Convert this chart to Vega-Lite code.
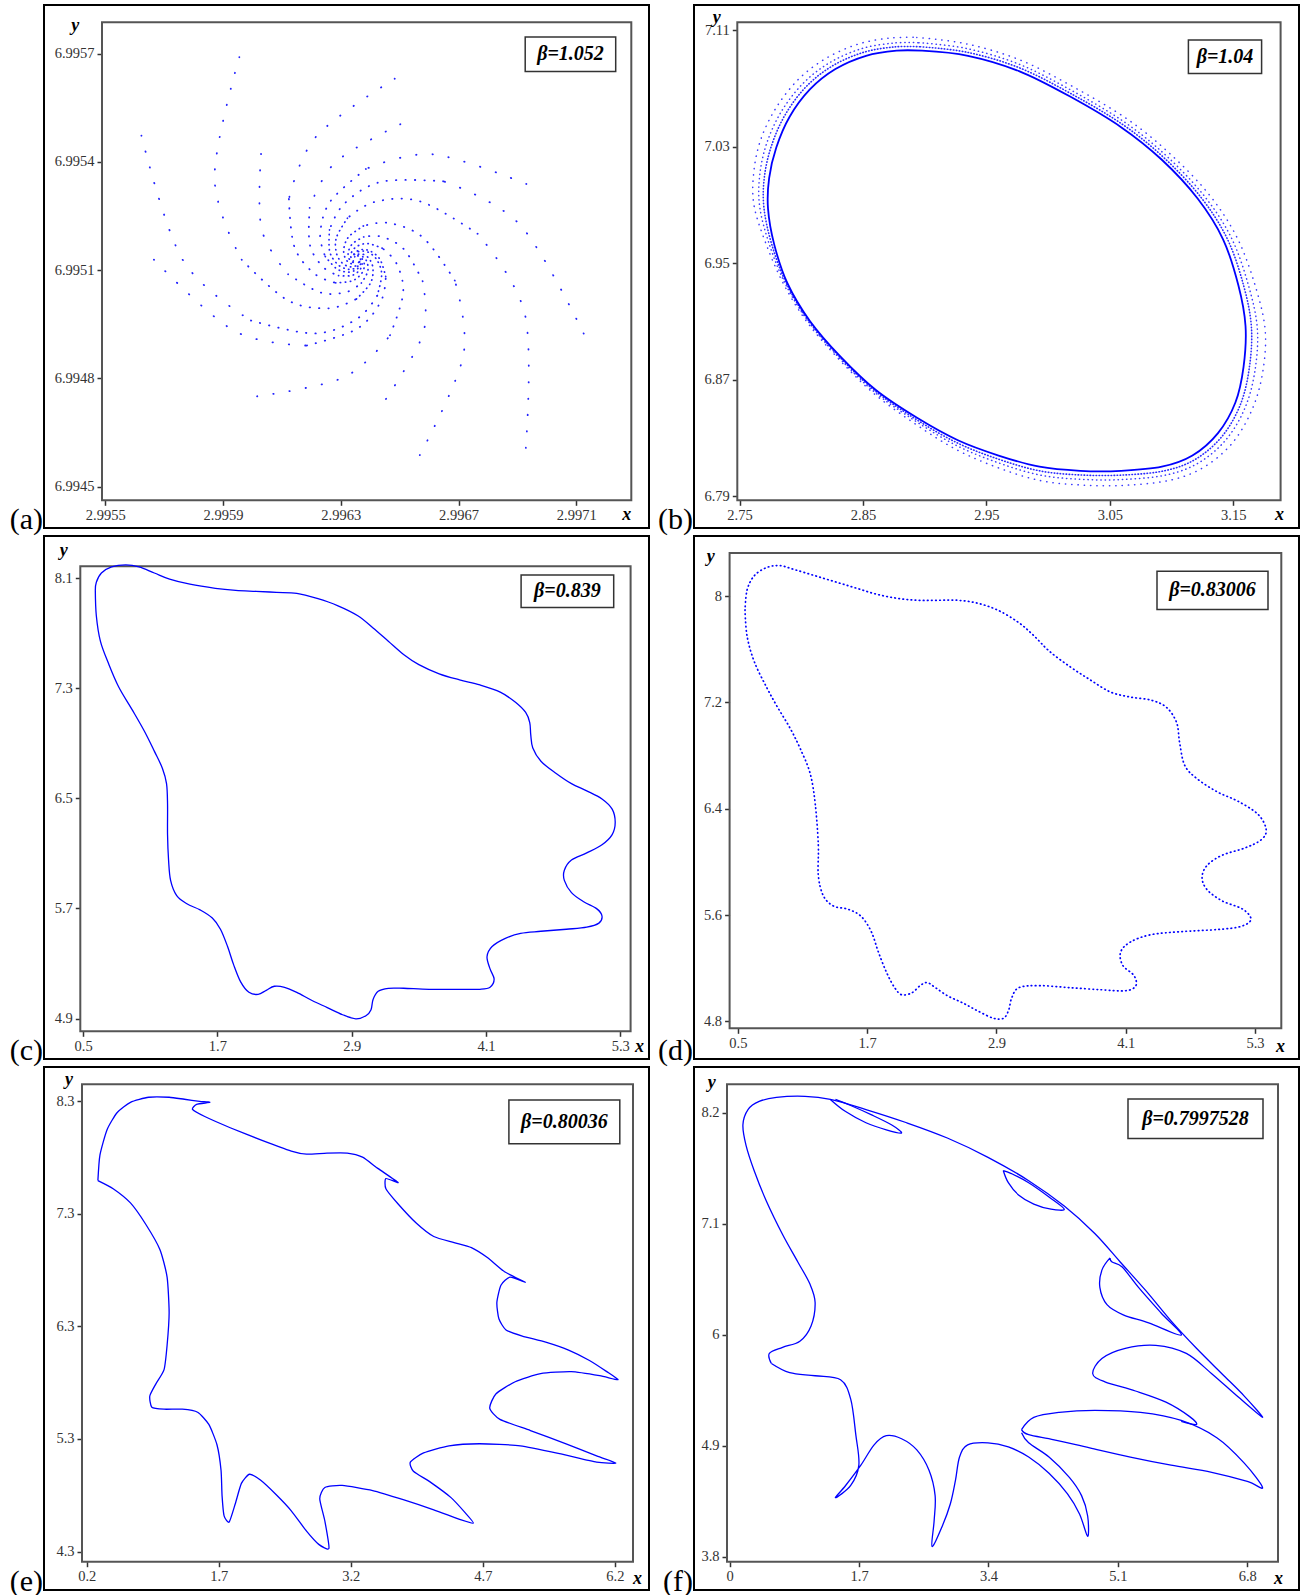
{
  "$schema": "https://vega.github.io/schema/vega-lite/v6.json",
  "padding": {"left": 8, "top": 4, "right": 0, "bottom": 0},
  "background": "white",
  "bounds": "flush",
  "columns": 2,
  "spacing": {"row": 8, "column": 45},
  "config": {
    "view": {"stroke": "#000000", "strokeWidth": 2},
    "axis": {"grid": false, "domain": false, "tickColor": "#333333", "tickWidth": 1.5, "tickSize": 5,
      "labelFont": "Liberation Serif", "labelFontSize": 14.5, "labelColor": "#333333", "labelPadding": 3,
      "titleFont": "Liberation Serif", "titleFontSize": 18, "titleFontStyle": "italic", "titleFontWeight": "bold",
      "titleAngle": 0, "titleAlign": "center", "titleBaseline": "middle", "titleColor": "#000000", "format": "~g"},
    "title": {"font": "Liberation Serif", "fontSize": 30, "fontWeight": "normal", "color": "#000000",
      "orient": "left", "anchor": "start", "frame": "group", "angle": 0, "align": "right", "baseline": "alphabetic", "offset": 1, "dy": -23}
  },
  "datasets": {
    "one": [{}],
    "a": [
      {"k":1,"j":0,"x":2.9959554,"y":6.9956904},{"k":1,"j":1,"x":2.9958711,"y":6.9953559},{"k":1,"j":2,"x":2.9959634,"y":6.9951291},{"k":1,"j":3,"x":2.9961168,"y":6.9950178},{"k":1,"j":4,"x":2.9962574,"y":6.9949944},{"k":1,"j":5,"x":2.9963528,"y":6.9950201},{"k":1,"j":6,"x":2.9963998,"y":6.9950629},{"k":1,"j":7,"x":2.9964095,"y":6.9951023},{"k":1,"j":8,"x":2.9963988,"y":6.9951291},{"k":1,"j":9,"x":2.9963808,"y":6.9951423},{"k":1,"j":10,"x":2.9963642,"y":6.9951449},{"k":1,"j":11,"x":2.9963528,"y":6.9951418},{"k":1,"j":12,"x":2.9963473,"y":6.995137},
      {"k":2,"j":0,"x":2.9964834,"y":6.9956307},{"k":2,"j":1,"x":2.9962167,"y":6.9954706},{"k":2,"j":2,"x":2.9961237,"y":6.9952973},{"k":2,"j":3,"x":2.996142,"y":6.9951657},{"k":2,"j":4,"x":2.9962091,"y":6.9950911},{"k":2,"j":5,"x":2.996282,"y":6.9950651},{"k":2,"j":6,"x":2.9963376,"y":6.9950702},{"k":2,"j":7,"x":2.9963687,"y":6.9950888},{"k":2,"j":8,"x":2.9963798,"y":6.9951094},{"k":2,"j":9,"x":2.9963773,"y":6.9951249},{"k":2,"j":10,"x":2.9963697,"y":6.9951336},{"k":2,"j":11,"x":2.9963611,"y":6.9951367},
      {"k":3,"j":0,"x":2.9969305,"y":6.9953387},{"k":3,"j":1,"x":2.996613,"y":6.995421},{"k":3,"j":2,"x":2.9963853,"y":6.9953804},{"k":3,"j":3,"x":2.9962647,"y":6.9952908},{"k":3,"j":4,"x":2.9962301,"y":6.9952018},{"k":3,"j":5,"x":2.9962471,"y":6.9951381},{"k":3,"j":6,"x":2.9962851,"y":6.9951046},{"k":3,"j":7,"x":2.996322,"y":6.9950947},{"k":3,"j":8,"x":2.996349,"y":6.9950998},{"k":3,"j":9,"x":2.9963632,"y":6.9951099},{"k":3,"j":10,"x":2.9963673,"y":6.9951204},{"k":3,"j":11,"x":2.9963652,"y":6.995128},
      {"k":4,"j":0,"x":2.9971251,"y":6.9949245},{"k":4,"j":1,"x":2.9969088,"y":6.9952255},{"k":4,"j":2,"x":2.9966486,"y":6.9953463},{"k":4,"j":3,"x":2.9964388,"y":6.9953452},{"k":4,"j":4,"x":2.9963124,"y":6.9952846},{"k":4,"j":5,"x":2.9962616,"y":6.9952119},{"k":4,"j":6,"x":2.9962619,"y":6.9951531},{"k":4,"j":7,"x":2.9962871,"y":6.9951178},{"k":4,"j":8,"x":2.9963182,"y":6.9951037},{"k":4,"j":9,"x":2.9963428,"y":6.9951037},{"k":4,"j":10,"x":2.9963576,"y":6.9951108},{"k":4,"j":11,"x":2.9963635,"y":6.9951195},{"k":4,"j":12,"x":2.9963635,"y":6.9951263},
      {"k":5,"j":0,"x":2.9969285,"y":6.9946078},{"k":5,"j":1,"x":2.9969257,"y":6.9949772},{"k":5,"j":2,"x":2.996765,"y":6.9952007},{"k":5,"j":3,"x":2.9965722,"y":6.99529},{"k":5,"j":4,"x":2.9964167,"y":6.9952894},{"k":5,"j":5,"x":2.9963227,"y":6.9952443},{"k":5,"j":6,"x":2.9962851,"y":6.9951905},{"k":5,"j":7,"x":2.9962854,"y":6.9951469},{"k":5,"j":8,"x":2.9963041,"y":6.9951206},{"k":5,"j":9,"x":2.9963272,"y":6.9951102},{"k":5,"j":10,"x":2.9963452,"y":6.9951102},{"k":5,"j":11,"x":2.9963563,"y":6.9951156},{"k":5,"j":12,"x":2.9963607,"y":6.9951221},
      {"k":6,"j":0,"x":2.9965684,"y":6.9945878},{"k":6,"j":1,"x":2.996716,"y":6.9948625},{"k":6,"j":2,"x":2.9966873,"y":6.9950711},{"k":6,"j":3,"x":2.9965805,"y":6.9951894},{"k":6,"j":4,"x":2.9964651,"y":6.9952305},{"k":6,"j":5,"x":2.996377,"y":6.9952226},{"k":6,"j":6,"x":2.9963272,"y":6.9951928},{"k":6,"j":7,"x":2.9963103,"y":6.9951604},{"k":6,"j":8,"x":2.9963138,"y":6.9951359},{"k":6,"j":9,"x":2.9963258,"y":6.9951221},{"k":6,"j":10,"x":2.9963397,"y":6.9951173},{"k":6,"j":11,"x":2.99635,"y":6.9951181},
      {"k":7,"j":0,"x":2.9960156,"y":6.9947507},{"k":7,"j":1,"x":2.996311,"y":6.9948034},{"k":7,"j":2,"x":2.9964672,"y":6.9949197},{"k":7,"j":3,"x":2.9965117,"y":6.995035},{"k":7,"j":4,"x":2.99649,"y":6.9951173},{"k":7,"j":5,"x":2.9964409,"y":6.9951609},{"k":7,"j":6,"x":2.9963925,"y":6.9951736},{"k":7,"j":7,"x":2.9963576,"y":6.9951674},{"k":7,"j":8,"x":2.9963393,"y":6.9951539},{"k":7,"j":9,"x":2.9963341,"y":6.9951401},{"k":7,"j":10,"x":2.9963366,"y":6.9951305},{"k":7,"j":11,"x":2.9963424,"y":6.9951254},
      {"k":8,"j":0,"x":2.9956652,"y":6.9951291},{"k":8,"j":1,"x":2.9959361,"y":6.9949327},{"k":8,"j":2,"x":2.9961842,"y":6.9948913},{"k":8,"j":3,"x":2.9963528,"y":6.9949367},{"k":8,"j":4,"x":2.9964354,"y":6.9950124},{"k":8,"j":5,"x":2.9964527,"y":6.995082},{"k":8,"j":6,"x":2.9964337,"y":6.9951291},{"k":8,"j":7,"x":2.9964019,"y":6.9951522},{"k":8,"j":8,"x":2.9963728,"y":6.9951573},{"k":8,"j":9,"x":2.9963528,"y":6.9951516},{"k":8,"j":10,"x":2.9963431,"y":6.9951426},{"k":8,"j":11,"x":2.9963411,"y":6.9951347},
      {"k":9,"j":0,"x":2.9956227,"y":6.9954729},{"k":9,"j":1,"x":2.9957626,"y":6.9951291},{"k":9,"j":2,"x":2.9959948,"y":6.9949606},{"k":9,"j":3,"x":2.996208,"y":6.9949248},{"k":9,"j":4,"x":2.9963528,"y":6.994964},{"k":9,"j":5,"x":2.9964236,"y":6.9950291},{"k":9,"j":6,"x":2.9964388,"y":6.9950885},{"k":9,"j":7,"x":2.9964223,"y":6.9951291},{"k":9,"j":8,"x":2.996395,"y":6.9951491},{"k":9,"j":9,"x":2.9963697,"y":6.9951531},{"k":9,"j":10,"x":2.9963528,"y":6.9951485},{"k":9,"j":11,"x":2.9963445,"y":6.9951409},{"k":9,"j":12,"x":2.9963428,"y":6.9951339},
      {"k":10,"j":0,"x":2.9965024,"y":6.9955044},{"k":10,"j":1,"x":2.9962823,"y":6.9953993},{"k":10,"j":2,"x":2.9961942,"y":6.9952728},{"k":10,"j":3,"x":2.9961949,"y":6.9951708},{"k":10,"j":4,"x":2.9962391,"y":6.9951094},{"k":10,"j":5,"x":2.9962923,"y":6.9950849},{"k":10,"j":6,"x":2.9963352,"y":6.9950849},{"k":10,"j":7,"x":2.9963611,"y":6.9950975},{"k":10,"j":8,"x":2.9963715,"y":6.9951122},{"k":10,"j":9,"x":2.9963711,"y":6.9951243},{"k":10,"j":10,"x":2.9963659,"y":6.9951314},
      {"k":11,"j":0,"x":2.996029,"y":6.9954221},{"k":11,"j":1,"x":2.9960308,"y":6.9952145},{"k":11,"j":2,"x":2.9961209,"y":6.9950888},{"k":11,"j":3,"x":2.9962294,"y":6.9950387},{"k":11,"j":4,"x":2.9963169,"y":6.9950389},{"k":11,"j":5,"x":2.9963697,"y":6.9950643},{"k":11,"j":6,"x":2.9963908,"y":6.9950944},{"k":11,"j":7,"x":2.9963905,"y":6.995119},{"k":11,"j":8,"x":2.9963801,"y":6.9951339},{"k":11,"j":9,"x":2.9963673,"y":6.9951395},{"k":11,"j":10,"x":2.9963569,"y":6.9951395},
      {"k":12,"j":0,"x":2.9964534,"y":6.9947434},{"k":12,"j":1,"x":2.9965795,"y":6.994924},{"k":12,"j":2,"x":2.9965781,"y":6.9950694},{"k":12,"j":3,"x":2.9965152,"y":6.9951573},{"k":12,"j":4,"x":2.9964392,"y":6.9951925},{"k":12,"j":5,"x":2.996378,"y":6.9951922},{"k":12,"j":6,"x":2.9963411,"y":6.9951745},{"k":12,"j":7,"x":2.9963262,"y":6.9951531},{"k":12,"j":8,"x":2.9963262,"y":6.9951361},{"k":12,"j":9,"x":2.9963338,"y":6.9951257},{"k":12,"j":10,"x":2.9963428,"y":6.9951218}
    ],
    "b0": [
      {"i":1,"x":2.8979,"y":7.0960},{"i":2,"x":2.9351,"y":7.0925},{"i":3,"x":2.9764,"y":7.0820},{"i":4,"x":3.0178,"y":7.0645},
      {"i":5,"x":3.0591,"y":7.0435},{"i":6,"x":3.0921,"y":7.0211},{"i":7,"x":3.1211,"y":6.9945},{"i":8,"x":3.1417,"y":6.9665},
      {"i":9,"x":3.1541,"y":6.9349},{"i":10,"x":3.1599,"y":6.9069},{"i":11,"x":3.1583,"y":6.8789},{"i":12,"x":3.1517,"y":6.8544},
      {"i":13,"x":3.1376,"y":6.8334},{"i":14,"x":3.1169,"y":6.8180},{"i":15,"x":3.0921,"y":6.8103},{"i":16,"x":3.0591,"y":6.8075},
      {"i":17,"x":3.0260,"y":6.8075},{"i":18,"x":2.9930,"y":6.8103},{"i":19,"x":2.9599,"y":6.8180},{"i":20,"x":2.9269,"y":6.8285},
      {"i":21,"x":2.8938,"y":6.8439},{"i":22,"x":2.8607,"y":6.8628},{"i":23,"x":2.8318,"y":6.8859},{"i":24,"x":2.8070,"y":6.9104},
      {"i":25,"x":2.7888,"y":6.9363},{"i":26,"x":2.7781,"y":6.9630},{"i":27,"x":2.7731,"y":6.9875},{"i":28,"x":2.7740,"y":7.0085},
      {"i":29,"x":2.7798,"y":7.0295},{"i":30,"x":2.7905,"y":7.0505},{"i":31,"x":2.8070,"y":7.0694},{"i":32,"x":2.8277,"y":7.0834},
      {"i":33,"x":2.8525,"y":7.0925},{"i":34,"x":2.8773,"y":7.0960},{"i":35,"x":2.8979,"y":7.0960}
    ],
    "b1": [
      {"i":1,"x":2.8966,"y":7.0987},{"i":2,"x":2.9345,"y":7.0949},{"i":3,"x":2.9766,"y":7.0843},{"i":4,"x":3.0187,"y":7.0664},
      {"i":5,"x":3.0607,"y":7.0451},{"i":6,"x":3.0942,"y":7.0222},{"i":7,"x":3.1239,"y":6.9952},{"i":8,"x":3.1452,"y":6.9667},
      {"i":9,"x":3.1584,"y":6.9346},{"i":10,"x":3.1647,"y":6.9058},{"i":11,"x":3.1628,"y":6.8772},{"i":12,"x":3.1555,"y":6.8525},
      {"i":13,"x":3.1409,"y":6.8312},{"i":14,"x":3.1197,"y":6.8156},{"i":15,"x":3.0946,"y":6.8076},{"i":16,"x":3.0610,"y":6.8046},
      {"i":17,"x":3.0273,"y":6.8046},{"i":18,"x":2.9936,"y":6.8074},{"i":19,"x":2.9598,"y":6.8155},{"i":20,"x":2.9263,"y":6.8267},
      {"i":21,"x":2.8931,"y":6.8428},{"i":22,"x":2.8600,"y":6.8623},{"i":23,"x":2.8312,"y":6.8856},{"i":24,"x":2.8063,"y":6.9102},
      {"i":25,"x":2.7879,"y":6.9363},{"i":26,"x":2.7761,"y":6.9631},{"i":27,"x":2.7698,"y":6.9881},{"i":28,"x":2.7702,"y":7.0096},
      {"i":29,"x":2.7760,"y":7.0310},{"i":30,"x":2.7872,"y":7.0523},{"i":31,"x":2.8042,"y":7.0715},{"i":32,"x":2.8254,"y":7.0856},
      {"i":33,"x":2.8505,"y":7.0949},{"i":34,"x":2.8757,"y":7.0986},{"i":35,"x":2.8966,"y":7.0987}
    ],
    "b2": [
      {"i":1,"x":2.8954,"y":7.1015},{"i":2,"x":2.9341,"y":7.0975},{"i":3,"x":2.9768,"y":7.0866},{"i":4,"x":3.0196,"y":7.0684},
      {"i":5,"x":3.0623,"y":7.0467},{"i":6,"x":3.0963,"y":7.0234},{"i":7,"x":3.1267,"y":6.9960},{"i":8,"x":3.1487,"y":6.9670},
      {"i":9,"x":3.1625,"y":6.9342},{"i":10,"x":3.1695,"y":6.9047},{"i":11,"x":3.1674,"y":6.8755},{"i":12,"x":3.1593,"y":6.8504},
      {"i":13,"x":3.1441,"y":6.8289},{"i":14,"x":3.1224,"y":6.8132},{"i":15,"x":3.0969,"y":6.8049},{"i":16,"x":3.0629,"y":6.8016},
      {"i":17,"x":3.0285,"y":6.8016},{"i":18,"x":2.9941,"y":6.8045},{"i":19,"x":2.9597,"y":6.8130},{"i":20,"x":2.9257,"y":6.8249},
      {"i":21,"x":2.8923,"y":6.8418},{"i":22,"x":2.8593,"y":6.8616},{"i":23,"x":2.8305,"y":6.8853},{"i":24,"x":2.8056,"y":6.9101},
      {"i":25,"x":2.7869,"y":6.9362},{"i":26,"x":2.7741,"y":6.9632},{"i":27,"x":2.7664,"y":6.9887},{"i":28,"x":2.7664,"y":7.0106},
      {"i":29,"x":2.7721,"y":7.0326},{"i":30,"x":2.7839,"y":7.0542},{"i":31,"x":2.8014,"y":7.0735},{"i":32,"x":2.8231,"y":7.0878},
      {"i":33,"x":2.8485,"y":7.0973},{"i":34,"x":2.8741,"y":7.1012},{"i":35,"x":2.8954,"y":7.1015}
    ],
    "b3": [
      {"i":1,"x":2.8936,"y":7.1051},{"i":2,"x":2.9333,"y":7.1008},{"i":3,"x":2.9770,"y":7.0897},{"i":4,"x":3.0207,"y":7.0710},
      {"i":5,"x":3.0645,"y":7.0488},{"i":6,"x":3.0991,"y":7.0249},{"i":7,"x":3.1305,"y":6.9971},{"i":8,"x":3.1532,"y":6.9674},
      {"i":9,"x":3.1681,"y":6.9337},{"i":10,"x":3.1759,"y":6.9032},{"i":11,"x":3.1734,"y":6.8732},{"i":12,"x":3.1643,"y":6.8478},
      {"i":13,"x":3.1485,"y":6.8259},{"i":14,"x":3.1260,"y":6.8099},{"i":15,"x":3.1001,"y":6.8013},{"i":16,"x":3.0655,"y":6.7977},
      {"i":17,"x":3.0302,"y":6.7976},{"i":18,"x":2.9948,"y":6.8006},{"i":19,"x":2.9595,"y":6.8096},{"i":20,"x":2.9249,"y":6.8224},
      {"i":21,"x":2.8913,"y":6.8403},{"i":22,"x":2.8584,"y":6.8609},{"i":23,"x":2.8297,"y":6.8849},{"i":24,"x":2.8046,"y":6.9098},
      {"i":25,"x":2.7855,"y":6.9361},{"i":26,"x":2.7715,"y":6.9634},{"i":27,"x":2.7618,"y":6.9896},{"i":28,"x":2.7615,"y":7.0121},
      {"i":29,"x":2.7671,"y":7.0347},{"i":30,"x":2.7795,"y":7.0566},{"i":31,"x":2.7977,"y":7.0763},{"i":32,"x":2.8200,"y":7.0907},
      {"i":33,"x":2.8460,"y":7.1005},{"i":34,"x":2.8719,"y":7.1047},{"i":35,"x":2.8936,"y":7.1051}
    ],
    "c": [
      {"i":1,"x":0.6091,"y":8.0113},{"i":2,"x":0.6182,"y":8.0704},{"i":3,"x":0.6636,"y":8.1370},{"i":4,"x":0.7545,"y":8.1813},
      {"i":5,"x":0.8818,"y":8.1961},{"i":6,"x":1.0,"y":8.1813},{"i":7,"x":1.1364,"y":8.1370},{"i":8,"x":1.2727,"y":8.0926},
      {"i":9,"x":1.4545,"y":8.0556},{"i":10,"x":1.6818,"y":8.0261},{"i":11,"x":1.8636,"y":8.0113},{"i":12,"x":2.0455,"y":8.0039},
      {"i":13,"x":2.2273,"y":7.9965},{"i":14,"x":2.4091,"y":7.9891},{"i":15,"x":2.5909,"y":7.9521},{"i":16,"x":2.7727,"y":7.9004},
      {"i":17,"x":2.9545,"y":7.8264},{"i":18,"x":3.0909,"y":7.7377},{"i":19,"x":3.2273,"y":7.6416},{"i":20,"x":3.3636,"y":7.5455},
      {"i":21,"x":3.5,"y":7.4715},{"i":22,"x":3.6818,"y":7.4050},{"i":23,"x":3.8636,"y":7.3606},{"i":24,"x":4.0455,"y":7.3237},
      {"i":25,"x":4.2273,"y":7.2719},{"i":26,"x":4.3636,"y":7.1980},{"i":27,"x":4.4545,"y":7.1240},{"i":28,"x":4.4909,"y":7.0501},
      {"i":29,"x":4.5,"y":6.9614},{"i":30,"x":4.5182,"y":6.8653},{"i":31,"x":4.5909,"y":6.7691},{"i":32,"x":4.7273,"y":6.6804},
      {"i":33,"x":4.8636,"y":6.6065},{"i":34,"x":5.0,"y":6.5547},{"i":35,"x":5.1364,"y":6.4956},{"i":36,"x":5.2273,"y":6.4216},
      {"i":37,"x":5.2545,"y":6.3255},{"i":38,"x":5.2273,"y":6.2368},{"i":39,"x":5.1364,"y":6.1629},{"i":40,"x":5.0,"y":6.1037},
      {"i":41,"x":4.8636,"y":6.0520},{"i":42,"x":4.8,"y":5.9781},{"i":43,"x":4.8,"y":5.9041},{"i":44,"x":4.8636,"y":5.8154},
      {"i":45,"x":4.9727,"y":5.7488},{"i":46,"x":5.0909,"y":5.6970},{"i":47,"x":5.1364,"y":5.6453},{"i":48,"x":5.1091,"y":5.5936},
      {"i":49,"x":5.0,"y":5.5640},{"i":50,"x":4.8182,"y":5.5492},{"i":51,"x":4.5909,"y":5.5344},{"i":52,"x":4.4091,"y":5.5196},
      {"i":53,"x":4.2727,"y":5.4827},{"i":54,"x":4.1545,"y":5.4235},{"i":55,"x":4.1091,"y":5.3496},{"i":56,"x":4.1364,"y":5.2609},
      {"i":57,"x":4.1727,"y":5.1869},{"i":58,"x":4.1364,"y":5.1278},{"i":59,"x":4.0455,"y":5.1130},{"i":60,"x":3.8636,"y":5.1130},
      {"i":61,"x":3.5909,"y":5.1130},{"i":62,"x":3.3636,"y":5.1203},{"i":63,"x":3.2273,"y":5.1203},{"i":64,"x":3.1364,"y":5.0982},
      {"i":65,"x":3.0909,"y":5.0391},{"i":66,"x":3.0727,"y":4.9651},{"i":67,"x":3.0273,"y":4.9207},{"i":68,"x":2.9364,"y":4.8985},
      {"i":69,"x":2.8182,"y":4.9281},{"i":70,"x":2.6818,"y":4.9799},{"i":71,"x":2.5455,"y":5.0316},{"i":72,"x":2.4091,"y":5.0907},
      {"i":73,"x":2.3,"y":5.1277},{"i":74,"x":2.2091,"y":5.1351},{"i":75,"x":2.1364,"y":5.1056},{"i":76,"x":2.0636,"y":5.0760},
      {"i":77,"x":1.9818,"y":5.0908},{"i":78,"x":1.9091,"y":5.1647},{"i":79,"x":1.8455,"y":5.2904},{"i":80,"x":1.7909,"y":5.4235},
      {"i":81,"x":1.7273,"y":5.5492},{"i":82,"x":1.6545,"y":5.6305},{"i":83,"x":1.5455,"y":5.6896},{"i":84,"x":1.4273,"y":5.7340},
      {"i":85,"x":1.3364,"y":5.7932},{"i":86,"x":1.2818,"y":5.9041},{"i":87,"x":1.2636,"y":6.0520},{"i":88,"x":1.2545,"y":6.2368},
      {"i":89,"x":1.2545,"y":6.4586},{"i":90,"x":1.2455,"y":6.6065},{"i":91,"x":1.2091,"y":6.7174},{"i":92,"x":1.1364,"y":6.8431},
      {"i":93,"x":1.0455,"y":6.9910},{"i":94,"x":0.9364,"y":7.1462},{"i":95,"x":0.8182,"y":7.3089},{"i":96,"x":0.7273,"y":7.4789},
      {"i":97,"x":0.6545,"y":7.6416},{"i":98,"x":0.6182,"y":7.8264},{"i":99,"x":0.6091,"y":8.0113}
    ],
    "d": [
      {"i":1,"x":0.5661,"y":7.8926},{"i":2,"x":0.5850,"y":8.0460},{"i":3,"x":0.6512,"y":8.1535},{"i":4,"x":0.7646,"y":8.2149},
      {"i":5,"x":0.8874,"y":8.2302},{"i":6,"x":1.0291,"y":8.1995},{"i":7,"x":1.2181,"y":8.1535},{"i":8,"x":1.4071,"y":8.1074},
      {"i":9,"x":1.5961,"y":8.0614},{"i":10,"x":1.7850,"y":8.0153},{"i":11,"x":1.9740,"y":7.9847},{"i":12,"x":2.1630,"y":7.9693},
      {"i":13,"x":2.3520,"y":7.9693},{"i":14,"x":2.5409,"y":7.9693},{"i":15,"x":2.7299,"y":7.9463},{"i":16,"x":2.9189,"y":7.8926},
      {"i":17,"x":3.1079,"y":7.8005},{"i":18,"x":3.2496,"y":7.7007},{"i":19,"x":3.3913,"y":7.5856},{"i":20,"x":3.5803,"y":7.4705},
      {"i":21,"x":3.7693,"y":7.3707},{"i":22,"x":3.9583,"y":7.2787},{"i":23,"x":4.1472,"y":7.2403},{"i":24,"x":4.3362,"y":7.2173},
      {"i":25,"x":4.4780,"y":7.1635},{"i":26,"x":4.5724,"y":7.0484},{"i":27,"x":4.6008,"y":6.8950},{"i":28,"x":4.6480,"y":6.7261},
      {"i":29,"x":4.7614,"y":6.6264},{"i":30,"x":4.9504,"y":6.5266},{"i":31,"x":5.1394,"y":6.4575},{"i":32,"x":5.3283,"y":6.3578},
      {"i":33,"x":5.4039,"y":6.2427},{"i":34,"x":5.3567,"y":6.1660},{"i":35,"x":5.2055,"y":6.1046},{"i":36,"x":4.9976,"y":6.0509},
      {"i":37,"x":4.8559,"y":5.9741},{"i":38,"x":4.8087,"y":5.8821},{"i":39,"x":4.8559,"y":5.7900},{"i":40,"x":4.9976,"y":5.7055},
      {"i":41,"x":5.1866,"y":5.6441},{"i":42,"x":5.2622,"y":5.5674},{"i":43,"x":5.1677,"y":5.5137},{"i":44,"x":4.9504,"y":5.4906},
      {"i":45,"x":4.6197,"y":5.4753},{"i":46,"x":4.3362,"y":5.4523},{"i":47,"x":4.1472,"y":5.3985},{"i":48,"x":4.0528,"y":5.3218},
      {"i":49,"x":4.0717,"y":5.2220},{"i":50,"x":4.1756,"y":5.1453},{"i":51,"x":4.1945,"y":5.0686},{"i":52,"x":4.1000,"y":5.0302},
      {"i":53,"x":3.8638,"y":5.0379},{"i":54,"x":3.5803,"y":5.0532},{"i":55,"x":3.2969,"y":5.0686},{"i":56,"x":3.1079,"y":5.0532},
      {"i":57,"x":3.0417,"y":4.9765},{"i":58,"x":3.0134,"y":4.8844},{"i":59,"x":2.9661,"y":4.8230},{"i":60,"x":2.8717,"y":4.8230},
      {"i":61,"x":2.7299,"y":4.8767},{"i":62,"x":2.5882,"y":4.9381},{"i":63,"x":2.4465,"y":4.9918},{"i":64,"x":2.3331,"y":5.0532},
      {"i":65,"x":2.2575,"y":5.0916},{"i":66,"x":2.1913,"y":5.0686},{"i":67,"x":2.1157,"y":5.0149},{"i":68,"x":2.0213,"y":4.9995},
      {"i":69,"x":1.9551,"y":5.0532},{"i":70,"x":1.8795,"y":5.1683},{"i":71,"x":1.8039,"y":5.3218},{"i":72,"x":1.7378,"y":5.4753},
      {"i":73,"x":1.6433,"y":5.5904},{"i":74,"x":1.5205,"y":5.6441},{"i":75,"x":1.3882,"y":5.6671},{"i":76,"x":1.2937,"y":5.7439},
      {"i":77,"x":1.2465,"y":5.8973},{"i":78,"x":1.2465,"y":6.1276},{"i":79,"x":1.2181,"y":6.4345},{"i":80,"x":1.1709,"y":6.6648},
      {"i":81,"x":1.0764,"y":6.8566},{"i":82,"x":0.9819,"y":7.0101},{"i":83,"x":0.8685,"y":7.1635},{"i":84,"x":0.7646,"y":7.3170},
      {"i":85,"x":0.6512,"y":7.5089},{"i":86,"x":0.5850,"y":7.7007},{"i":87,"x":0.5661,"y":7.8926}
    ],
    "e": [
      {"i":1,"x":0.3272,"y":7.5957},{"i":2,"x":0.3503,"y":7.8214},{"i":3,"x":0.4312,"y":8.0472},{"i":4,"x":0.5468,"y":8.2007},
      {"i":5,"x":0.6971,"y":8.2910},{"i":6,"x":0.9052,"y":8.3361},{"i":7,"x":1.1364,"y":8.3361},{"i":8,"x":1.3099,"y":8.3181},
      {"i":9,"x":1.4833,"y":8.3},{"i":10,"x":1.5989,"y":8.2910},{"i":11,"x":1.4486,"y":8.2729},{"i":12,"x":1.4023,"y":8.2278},
      {"i":13,"x":1.5411,"y":8.1646},{"i":14,"x":1.8301,"y":8.0652},{"i":15,"x":2.1769,"y":7.9569},{"i":16,"x":2.5238,"y":7.8576},
      {"i":17,"x":2.6972,"y":7.8305},{"i":18,"x":2.9284,"y":7.8395},{"i":19,"x":3.1597,"y":7.8395},{"i":20,"x":3.3331,"y":7.8034},
      {"i":21,"x":3.5065,"y":7.7041},{"i":22,"x":3.7377,"y":7.5777},{"i":23,"x":3.5989,"y":7.6138},{"i":24,"x":3.5989,"y":7.5235},
      {"i":25,"x":3.7377,"y":7.3880},{"i":26,"x":3.9458,"y":7.2165},{"i":27,"x":4.1423,"y":7.0991},{"i":28,"x":4.3736,"y":7.0449},
      {"i":29,"x":4.5701,"y":6.9998},{"i":30,"x":4.7551,"y":6.9095},{"i":31,"x":4.9516,"y":6.7831},{"i":32,"x":5.1829,"y":6.6928},
      {"i":33,"x":5.0094,"y":6.7379},{"i":34,"x":4.9054,"y":6.6657},{"i":35,"x":4.8592,"y":6.5122},{"i":36,"x":4.8823,"y":6.3677},
      {"i":37,"x":4.9632,"y":6.2684},{"i":38,"x":5.1482,"y":6.2142},{"i":39,"x":5.4141,"y":6.1600},{"i":40,"x":5.6800,"y":6.0878},
      {"i":41,"x":5.9112,"y":5.9975},{"i":42,"x":6.1077,"y":5.8982},{"i":43,"x":6.2349,"y":5.8260},{"i":44,"x":6.0268,"y":5.8621},
      {"i":45,"x":5.7031,"y":5.8982},{"i":46,"x":5.3563,"y":5.8802},{"i":47,"x":5.0673,"y":5.8080},{"i":48,"x":4.8476,"y":5.6996},
      {"i":49,"x":4.7782,"y":5.5732},{"i":50,"x":4.8939,"y":5.4739},{"i":51,"x":5.2407,"y":5.3746},{"i":52,"x":5.6453,"y":5.2572},
      {"i":53,"x":5.9922,"y":5.1488},{"i":54,"x":6.2118,"y":5.0856},{"i":55,"x":5.9922,"y":5.0946},{"i":56,"x":5.5875,"y":5.1669},
      {"i":57,"x":5.1251,"y":5.2391},{"i":58,"x":4.6625,"y":5.2572},{"i":59,"x":4.3157,"y":5.2391},{"i":60,"x":4.0267,"y":5.1759},
      {"i":61,"x":3.8764,"y":5.0946},{"i":62,"x":3.9111,"y":5.0134},{"i":63,"x":4.1077,"y":4.9141},{"i":64,"x":4.3389,"y":4.7786},
      {"i":65,"x":4.5007,"y":4.6432},{"i":66,"x":4.5932,"y":4.5529},{"i":67,"x":4.4545,"y":4.5800},{"i":68,"x":4.1423,"y":4.6703},
      {"i":69,"x":3.7955,"y":4.7606},{"i":70,"x":3.4487,"y":4.8418},{"i":71,"x":3.1018,"y":4.8870},{"i":72,"x":2.9053,"y":4.8689},
      {"i":73,"x":2.8474,"y":4.7696},{"i":74,"x":2.9053,"y":4.5710},{"i":75,"x":2.9516,"y":4.3272},{"i":76,"x":2.8359,"y":4.3633},
      {"i":77,"x":2.6972,"y":4.4807},{"i":78,"x":2.5238,"y":4.6613},{"i":79,"x":2.3504,"y":4.8057},{"i":80,"x":2.1769,"y":4.9321},
      {"i":81,"x":2.0498,"y":4.9863},{"i":82,"x":1.9573,"y":4.9051},{"i":83,"x":1.8879,"y":4.7245},{"i":84,"x":1.8185,"y":4.5619},
      {"i":85,"x":1.7607,"y":4.6161},{"i":86,"x":1.7376,"y":4.7967},{"i":87,"x":1.7260,"y":5.0224},{"i":88,"x":1.6798,"y":5.2482},
      {"i":89,"x":1.5873,"y":5.4288},{"i":90,"x":1.4602,"y":5.5371},{"i":91,"x":1.2867,"y":5.5642},{"i":92,"x":1.0786,"y":5.5642},
      {"i":93,"x":0.9399,"y":5.5823},{"i":94,"x":0.9168,"y":5.6816},{"i":95,"x":0.9861,"y":5.7898},{"i":96,"x":1.0786,"y":5.9163},
      {"i":97,"x":1.1133,"y":6.1330},{"i":98,"x":1.1364,"y":6.4219},{"i":99,"x":1.1133,"y":6.7379},{"i":100,"x":1.0324,"y":6.9817},
      {"i":101,"x":0.8705,"y":7.2075},{"i":102,"x":0.6971,"y":7.3971},{"i":103,"x":0.5006,"y":7.5235},{"i":104,"x":0.3272,"y":7.5957}
    ],
    "f": [
      {"s":1,"i":1,"x":0.5478,"y":5.7130},{"s":1,"i":2,"x":0.5210,"y":5.8136},{"s":1,"i":3,"x":0.6947,"y":5.8741},{"s":1,"i":4,"x":0.9218,"y":5.9345},
      {"s":1,"i":5,"x":1.0688,"y":6.0855},{"s":1,"i":6,"x":1.1222,"y":6.3171},{"s":1,"i":7,"x":1.0554,"y":6.4983},{"s":1,"i":8,"x":0.8951,"y":6.7199},
      {"s":1,"i":9,"x":0.6947,"y":6.9917},{"s":1,"i":10,"x":0.4810,"y":7.3240},{"s":1,"i":11,"x":0.3206,"y":7.6261},{"s":1,"i":12,"x":0.2138,"y":7.8778},
      {"s":1,"i":13,"x":0.1737,"y":8.0792},{"s":1,"i":14,"x":0.2405,"y":8.2302},{"s":1,"i":15,"x":0.3874,"y":8.3108},{"s":1,"i":16,"x":0.6146,"y":8.3510},
      {"s":1,"i":17,"x":0.9886,"y":8.3611},{"s":1,"i":18,"x":1.3226,"y":8.3309},{"s":1,"i":19,"x":1.7902,"y":8.2302},{"s":1,"i":20,"x":2.3246,"y":8.0993},
      {"s":1,"i":21,"x":2.8590,"y":7.9483},{"s":1,"i":22,"x":3.3934,"y":7.7570},{"s":1,"i":23,"x":3.9278,"y":7.5254},{"s":1,"i":24,"x":4.3954,"y":7.2737},
      {"s":1,"i":25,"x":4.7962,"y":7.0018},{"s":1,"i":26,"x":5.1302,"y":6.7199},{"s":1,"i":27,"x":5.4642,"y":6.4379},{"s":1,"i":28,"x":5.7982,"y":6.1359},
      {"s":1,"i":29,"x":6.1322,"y":5.8640},{"s":1,"i":30,"x":6.4662,"y":5.6123},{"s":1,"i":31,"x":6.7602,"y":5.3907},{"s":1,"i":32,"x":7.0006,"y":5.1793},
      {"s":1,"i":33,"x":6.6666,"y":5.3907},{"s":1,"i":34,"x":6.3326,"y":5.6123},{"s":1,"i":35,"x":5.9986,"y":5.8136},{"s":1,"i":36,"x":5.5978,"y":5.8942},
      {"s":1,"i":37,"x":5.1970,"y":5.8640},{"s":1,"i":38,"x":4.8898,"y":5.7633},{"s":1,"i":39,"x":4.7695,"y":5.6123},{"s":1,"i":40,"x":4.9298,"y":5.5317},
      {"s":1,"i":41,"x":5.3306,"y":5.4411},{"s":1,"i":42,"x":5.7314,"y":5.3303},{"s":1,"i":43,"x":6.0387,"y":5.1894},{"s":1,"i":44,"x":6.1322,"y":5.1088},
      {"s":1,"i":45,"x":5.9318,"y":5.1390},
      {"s":2,"i":1,"x":3.8343,"y":5.0283},{"s":2,"i":2,"x":3.9278,"y":4.9276},{"s":2,"i":3,"x":4.1950,"y":4.7866},{"s":2,"i":4,"x":4.4622,"y":4.5852},
      {"s":2,"i":5,"x":4.6226,"y":4.4040},{"s":2,"i":6,"x":4.7027,"y":4.2026},{"s":2,"i":7,"x":4.7027,"y":4.0012},{"s":2,"i":8,"x":4.5958,"y":4.2227},
      {"s":2,"i":9,"x":4.4355,"y":4.4241},{"s":2,"i":10,"x":4.1950,"y":4.6255},{"s":2,"i":11,"x":3.9278,"y":4.7866},{"s":2,"i":12,"x":3.6606,"y":4.8873},
      {"s":2,"i":13,"x":3.3934,"y":4.9276},{"s":2,"i":14,"x":3.1262,"y":4.9074},{"s":2,"i":15,"x":3.0194,"y":4.7866},{"s":2,"i":16,"x":2.9659,"y":4.5550},
      {"s":2,"i":17,"x":2.8991,"y":4.3234},{"s":2,"i":18,"x":2.7922,"y":4.1019},{"s":2,"i":19,"x":2.6586,"y":3.9005},{"s":2,"i":20,"x":2.6854,"y":4.1523},
      {"s":2,"i":21,"x":2.6987,"y":4.4040},{"s":2,"i":22,"x":2.6186,"y":4.6557},{"s":2,"i":23,"x":2.4582,"y":4.8571},{"s":2,"i":24,"x":2.2578,"y":4.9678},
      {"s":2,"i":25,"x":2.0574,"y":4.9981},{"s":2,"i":26,"x":1.8971,"y":4.9074},{"s":2,"i":27,"x":1.7234,"y":4.7061},{"s":2,"i":28,"x":1.5230,"y":4.5047},
      {"s":2,"i":29,"x":1.3894,"y":4.3838},{"s":2,"i":30,"x":1.5898,"y":4.5047},{"s":2,"i":31,"x":1.6967,"y":4.7061},{"s":2,"i":32,"x":1.6566,"y":5.0081},
      {"s":2,"i":33,"x":1.5898,"y":5.3605},{"s":2,"i":34,"x":1.4562,"y":5.5519},{"s":2,"i":35,"x":1.1222,"y":5.5921},{"s":2,"i":36,"x":0.7882,"y":5.6223},
      {"s":2,"i":37,"x":0.5478,"y":5.7130},
      {"s":3,"i":1,"x":3.8343,"y":5.0585},{"s":3,"i":2,"x":3.9946,"y":5.1793},{"s":3,"i":3,"x":4.3286,"y":5.2296},{"s":3,"i":4,"x":4.7962,"y":5.2498},
      {"s":3,"i":5,"x":5.3974,"y":5.2296},{"s":3,"i":6,"x":5.9318,"y":5.1491},{"s":3,"i":7,"x":6.3994,"y":4.9779},{"s":3,"i":8,"x":6.7602,"y":4.7262},
      {"s":3,"i":9,"x":7.0006,"y":4.4845},{"s":3,"i":10,"x":6.8002,"y":4.5450},{"s":3,"i":11,"x":6.3326,"y":4.6356},{"s":3,"i":12,"x":5.7982,"y":4.7061},
      {"s":3,"i":13,"x":5.2638,"y":4.7866},{"s":3,"i":14,"x":4.7294,"y":4.8772},{"s":3,"i":15,"x":4.2618,"y":4.9578},{"s":3,"i":16,"x":3.9278,"y":5.0081},
      {"s":3,"i":17,"x":3.8343,"y":5.0585},
      {"s":4,"i":1,"x":1.3226,"y":8.3309},{"s":4,"i":2,"x":1.5230,"y":8.2101},{"s":4,"i":3,"x":1.7902,"y":8.0993},{"s":4,"i":4,"x":2.0574,"y":8.0288},
      {"s":4,"i":5,"x":2.2578,"y":7.9986},{"s":4,"i":6,"x":2.1242,"y":8.0792},{"s":4,"i":7,"x":1.8570,"y":8.1799},{"s":4,"i":8,"x":1.5898,"y":8.2705},
      {"s":4,"i":9,"x":1.3894,"y":8.3309},
      {"s":5,"i":1,"x":3.5938,"y":7.6261},{"s":5,"i":2,"x":3.6606,"y":7.5052},{"s":5,"i":3,"x":3.7942,"y":7.3844},{"s":5,"i":4,"x":3.9946,"y":7.2938},
      {"s":5,"i":5,"x":4.2218,"y":7.2434},{"s":5,"i":6,"x":4.3954,"y":7.2434},{"s":5,"i":7,"x":4.1950,"y":7.3643},{"s":5,"i":8,"x":3.9278,"y":7.5052},
      {"s":5,"i":9,"x":3.7006,"y":7.5959},{"s":5,"i":10,"x":3.5938,"y":7.6261},
      {"s":6,"i":1,"x":4.9966,"y":6.7601},{"s":6,"i":2,"x":4.8898,"y":6.6393},{"s":6,"i":3,"x":4.8630,"y":6.4681},{"s":6,"i":4,"x":4.9566,"y":6.2970},
      {"s":6,"i":5,"x":5.1703,"y":6.1963},{"s":6,"i":6,"x":5.5043,"y":6.1157},{"s":6,"i":7,"x":5.9318,"y":5.9949},{"s":6,"i":8,"x":5.6646,"y":6.2164},
      {"s":6,"i":9,"x":5.3707,"y":6.4681},{"s":6,"i":10,"x":5.1569,"y":6.6695},{"s":6,"i":11,"x":5.0234,"y":6.7199},{"s":6,"i":12,"x":4.9966,"y":6.7601}
    ]
  },
  "concat": [
    {
      "width": 605, "height": 523, "title": {"text": "(a)"},
      "layer": [
        {"data": {"name": "one"}, "mark": {"type": "rect", "fill": "white", "fillOpacity": 0, "stroke": "#555555", "strokeWidth": 2},
         "encoding": {"x": {"datum": 2.99548879, "type": "quantitative"}, "x2": {"datum": 2.99728682},
                      "y": {"datum": 6.99446260, "type": "quantitative"}, "y2": {"datum": 6.99578671}}},
        {"data": {"name": "a"}, "transform": [{"filter": "datum.j <= 2"}],
         "mark": {"type": "line", "interpolate": "cardinal", "color": "#2222ff", "strokeWidth": 1.8, "strokeCap": "round", "strokeDash": [0.4, 16]},
         "encoding": {
           "detail": {"field": "k", "type": "nominal"},
           "order": {"field": "j", "type": "quantitative"},
           "x": {"field": "x", "type": "quantitative",
                 "scale": {"domain": [2.99529176, 2.99734695], "nice": false, "zero": false},
                 "axis": {"values": [2.9955, 2.9959, 2.9963, 2.9967, 2.9971], "offset": -27.7, "title": "x", "titleX": 582.3, "titleY": 14.5}},
           "y": {"field": "y", "type": "quantitative",
                 "scale": {"domain": [6.99438586, 6.99583463], "nice": false, "zero": false},
                 "axis": {"values": [6.9945, 6.9948, 6.9951, 6.9954, 6.9957], "offset": -58, "title": "y", "titleX": -27.2, "titleY": 20.3}}}},
        {"data": {"name": "a"}, "transform": [{"filter": "datum.j >= 2 && datum.j <= 5"}],
         "mark": {"type": "line", "interpolate": "cardinal", "color": "#2222ff", "strokeWidth": 1.8, "strokeCap": "round", "strokeDash": [0.4, 9]},
         "encoding": {"detail": {"field": "k", "type": "nominal"}, "order": {"field": "j", "type": "quantitative"},
                      "x": {"field": "x", "type": "quantitative"}, "y": {"field": "y", "type": "quantitative"}}},
        {"data": {"name": "a"}, "transform": [{"filter": "datum.j >= 5"}],
         "mark": {"type": "line", "interpolate": "cardinal", "color": "#2222ff", "strokeWidth": 1.7, "strokeCap": "round", "strokeDash": [0.4, 4.5]},
         "encoding": {"detail": {"field": "k", "type": "nominal"}, "order": {"field": "j", "type": "quantitative"},
                      "x": {"field": "x", "type": "quantitative"}, "y": {"field": "y", "type": "quantitative"}}},
        {"data": {"name": "one"}, "mark": {"type": "rect", "fill": "white", "stroke": "#333333", "strokeWidth": 1.5},
         "encoding": {"x": {"datum": 2.9969264, "type": "quantitative"}, "x2": {"datum": 2.99723383},
                      "y": {"datum": 6.99565042, "type": "quantitative"}, "y2": {"datum": 6.99574626}}},
        {"data": {"name": "one"}, "mark": {"type": "text", "text": "β=1.052", "font": "Liberation Serif", "fontSize": 20, "fontStyle": "italic", "fontWeight": "bold", "color": "#000000"},
         "encoding": {"x": {"datum": 2.99708012, "type": "quantitative"}, "y": {"datum": 6.99569834, "type": "quantitative"}}}
      ]
    },
    {
      "width": 605, "height": 523, "title": {"text": "(b)"},
      "layer": [
        {"data": {"name": "one"}, "mark": {"type": "rect", "fill": "white", "fillOpacity": 0, "stroke": "#555555", "strokeWidth": 2},
         "encoding": {"x": {"datum": 2.748218, "type": "quantitative"}, "x2": {"datum": 3.188313},
                      "y": {"datum": 6.787251, "type": "quantitative"}, "y2": {"datum": 7.115494}}},
        {"data": {"name": "b3"}, "mark": {"type": "line", "interpolate": "cardinal", "color": "#3a3aff", "strokeWidth": 1.5, "strokeCap": "round", "strokeDash": [0.3, 6]},
         "encoding": {"order": {"field": "i", "type": "quantitative"}, "x": {"field": "x", "type": "quantitative"}, "y": {"field": "y", "type": "quantitative"}}},
        {"data": {"name": "b2"}, "mark": {"type": "line", "interpolate": "cardinal", "color": "#3a3aff", "strokeWidth": 1.5, "strokeCap": "round", "strokeDash": [0.3, 4]},
         "encoding": {"order": {"field": "i", "type": "quantitative"}, "x": {"field": "x", "type": "quantitative"}, "y": {"field": "y", "type": "quantitative"}}},
        {"data": {"name": "b1"}, "mark": {"type": "line", "interpolate": "cardinal", "color": "#2a2aff", "strokeWidth": 1.6, "strokeCap": "round", "strokeDash": [0.5, 2.5]},
         "encoding": {"order": {"field": "i", "type": "quantitative"}, "x": {"field": "x", "type": "quantitative"}, "y": {"field": "y", "type": "quantitative"}}},
        {"data": {"name": "b0"}, "mark": {"type": "line", "interpolate": "cardinal", "color": "#0000ff", "strokeWidth": 1.8},
         "encoding": {
           "order": {"field": "i", "type": "quantitative"},
           "x": {"field": "x", "type": "quantitative",
                 "scale": {"domain": [2.713143, 3.203217], "nice": false, "zero": false},
                 "axis": {"values": [2.75, 2.85, 2.95, 3.05, 3.15], "offset": -27.7, "title": "x", "titleX": 584.9, "titleY": 13.7}},
           "y": {"field": "y", "type": "quantitative",
                 "scale": {"domain": [6.768229, 7.127374], "nice": false, "zero": false},
                 "axis": {"values": [6.79, 6.87, 6.95, 7.03, 7.11], "offset": -43.3, "title": "y", "titleX": -21, "titleY": 12.3}}}},
        {"data": {"name": "one"}, "mark": {"type": "rect", "fill": "white", "stroke": "#333333", "strokeWidth": 1.5},
         "encoding": {"x": {"datum": 3.113627, "type": "quantitative"}, "x2": {"datum": 3.172922},
                      "y": {"datum": 7.080335, "type": "quantitative"}, "y2": {"datum": 7.103339}}},
        {"data": {"name": "one"}, "mark": {"type": "text", "text": "β=1.04", "font": "Liberation Serif", "fontSize": 20, "fontStyle": "italic", "fontWeight": "bold", "color": "#000000"},
         "encoding": {"x": {"datum": 3.143275, "type": "quantitative"}, "y": {"datum": 7.091837, "type": "quantitative"}}}
      ]
    },
    {
      "width": 605, "height": 523, "title": {"text": "(c)"},
      "layer": [
        {"data": {"name": "one"}, "mark": {"type": "rect", "fill": "white", "fillOpacity": 0, "stroke": "#555555", "strokeWidth": 2},
         "encoding": {"x": {"datum": 0.474981, "type": "quantitative"}, "x2": {"datum": 5.391992},
                      "y": {"datum": 4.807742, "type": "quantitative"}, "y2": {"datum": 8.185244}}},
        {"data": {"name": "c"}, "mark": {"type": "line", "interpolate": "cardinal", "color": "#0000ff", "strokeWidth": 1.3},
         "encoding": {
           "order": {"field": "i", "type": "quantitative"},
           "x": {"field": "x", "type": "quantitative",
                 "scale": {"domain": [0.150634, 5.556430], "nice": false, "zero": false},
                 "axis": {"values": [0.5, 1.7, 2.9, 4.1, 5.3], "offset": -27.7, "title": "x", "titleX": 595.1, "titleY": 14.7}},
           "y": {"field": "y", "type": "quantitative",
                 "scale": {"domain": [4.606516, 8.405834], "nice": false, "zero": false},
                 "axis": {"values": [4.9, 5.7, 6.5, 7.3, 8.1], "offset": -36.3, "title": "y", "titleX": -17, "titleY": 14.6}}}},
        {"data": {"name": "one"}, "mark": {"type": "rect", "fill": "white", "stroke": "#333333", "strokeWidth": 1.5},
         "encoding": {"x": {"datum": 4.413618, "type": "quantitative"}, "x2": {"datum": 5.241017},
                      "y": {"datum": 7.885698, "type": "quantitative"}, "y2": {"datum": 8.122520}}},
        {"data": {"name": "one"}, "mark": {"type": "text", "text": "β=0.839", "font": "Liberation Serif", "fontSize": 20, "fontStyle": "italic", "fontWeight": "bold", "color": "#000000"},
         "encoding": {"x": {"datum": 4.827318, "type": "quantitative"}, "y": {"datum": 8.004109, "type": "quantitative"}}}
      ]
    },
    {
      "width": 605, "height": 523, "title": {"text": "(d)"},
      "layer": [
        {"data": {"name": "one"}, "mark": {"type": "rect", "fill": "white", "fillOpacity": 0, "stroke": "#555555", "strokeWidth": 2},
         "encoding": {"x": {"datum": 0.422955, "type": "quantitative"}, "x2": {"datum": 5.544132},
                      "y": {"datum": 4.747307, "type": "quantitative"}, "y2": {"datum": 8.325194}}},
        {"data": {"name": "d"}, "mark": {"type": "line", "interpolate": "cardinal", "color": "#0000ff", "strokeWidth": 1.7, "strokeCap": "round", "strokeDash": [0.6, 3.5]},
         "encoding": {
           "order": {"field": "i", "type": "quantitative"},
           "x": {"field": "x", "type": "quantitative",
                 "scale": {"domain": [0.092496, 5.708433], "nice": false, "zero": false},
                 "axis": {"values": [0.5, 1.7, 2.9, 4.1, 5.3], "offset": -30.7, "title": "x", "titleX": 585.9, "titleY": 17.7}},
           "y": {"field": "y", "type": "quantitative",
                 "scale": {"domain": [4.516208, 8.453164], "nice": false, "zero": false},
                 "axis": {"values": [4.8, 5.6, 6.4, 7.2, 8], "offset": -35.6, "title": "y", "titleX": -19.3, "titleY": 20.7}}}},
        {"data": {"name": "one"}, "mark": {"type": "rect", "fill": "white", "stroke": "#333333", "strokeWidth": 1.5},
         "encoding": {"x": {"datum": 4.390313, "type": "quantitative"}, "x2": {"datum": 5.420674},
                      "y": {"datum": 7.899130, "type": "quantitative"}, "y2": {"datum": 8.187438}}},
        {"data": {"name": "one"}, "mark": {"type": "text", "text": "β=0.83006", "font": "Liberation Serif", "fontSize": 20, "fontStyle": "italic", "fontWeight": "bold", "color": "#000000"},
         "encoding": {"x": {"datum": 4.905494, "type": "quantitative"}, "y": {"datum": 8.043284, "type": "quantitative"}}}
      ]
    },
    {
      "width": 605, "height": 523, "title": {"text": "(e)"},
      "layer": [
        {"data": {"name": "one"}, "mark": {"type": "rect", "fill": "white", "fillOpacity": 0, "stroke": "#555555", "strokeWidth": 2},
         "encoding": {"x": {"datum": 0.146611, "type": "quantitative"}, "x2": {"datum": 6.405597},
                      "y": {"datum": 4.209374, "type": "quantitative"}, "y2": {"datum": 8.451044}}},
        {"data": {"name": "e"}, "mark": {"type": "line", "interpolate": "cardinal", "tension": 0.4, "color": "#0000ff", "strokeWidth": 1.3},
         "encoding": {
           "order": {"field": "i", "type": "quantitative"},
           "x": {"field": "x", "type": "quantitative",
                 "scale": {"domain": [-0.285043, 6.587346], "nice": false, "zero": false},
                 "axis": {"values": [0.2, 1.7, 3.2, 4.7, 6.2], "offset": -28.3, "title": "x", "titleX": 593.1, "titleY": 16.3}},
           "y": {"field": "y", "type": "quantitative",
                 "scale": {"domain": [3.957930, 8.604753], "nice": false, "zero": false},
                 "axis": {"values": [4.3, 5.3, 6.3, 7.3, 8.3], "offset": -38, "title": "y", "titleX": -13.6, "titleY": 12.6}}}},
        {"data": {"name": "one"}, "mark": {"type": "rect", "fill": "white", "stroke": "#333333", "strokeWidth": 1.5},
         "encoding": {"x": {"datum": 4.995905, "type": "quantitative"}, "x2": {"datum": 6.255654},
                      "y": {"datum": 7.923279, "type": "quantitative"}, "y2": {"datum": 8.310662}}},
        {"data": {"name": "one"}, "mark": {"type": "text", "text": "β=0.80036", "font": "Liberation Serif", "fontSize": 20, "fontStyle": "italic", "fontWeight": "bold", "color": "#000000"},
         "encoding": {"x": {"datum": 5.62578, "type": "quantitative"}, "y": {"datum": 8.116971, "type": "quantitative"}}}
      ]
    },
    {
      "width": 605, "height": 523, "title": {"text": "(f)"},
      "layer": [
        {"data": {"name": "one"}, "mark": {"type": "rect", "fill": "white", "fillOpacity": 0, "stroke": "#555555", "strokeWidth": 2},
         "encoding": {"x": {"datum": -0.035471, "type": "quantitative"}, "x2": {"datum": 7.203324},
                      "y": {"datum": 3.749459, "type": "quantitative"}, "y2": {"datum": 8.48045}}},
        {"data": {"name": "f"}, "mark": {"type": "line", "interpolate": "cardinal", "color": "#0000ff", "strokeWidth": 1.3},
         "encoding": {
           "detail": {"field": "s", "type": "nominal"},
           "order": {"field": "i", "type": "quantitative"},
           "x": {"field": "x", "type": "quantitative",
                 "scale": {"domain": [-0.469011, 7.479213], "nice": false, "zero": false},
                 "axis": {"values": [0, 1.7, 3.4, 5.1, 6.8], "offset": -28.3, "title": "x", "titleX": 583.9, "titleY": 16.3}},
           "y": {"field": "y", "type": "quantitative",
                 "scale": {"domain": [3.468991, 8.651892], "nice": false, "zero": false},
                 "axis": {"values": [3.8, 4.9, 6, 7.1, 8.2], "offset": -33, "title": "y", "titleX": -15.7, "titleY": 15.6}}}},
        {"data": {"name": "one"}, "mark": {"type": "rect", "fill": "white", "stroke": "#333333", "strokeWidth": 1.5},
         "encoding": {"x": {"datum": 5.23269, "type": "quantitative"}, "x2": {"datum": 7.006261},
                      "y": {"datum": 7.942342, "type": "quantitative"}, "y2": {"datum": 8.335766}}},
        {"data": {"name": "one"}, "mark": {"type": "text", "text": "β=0.7997528", "font": "Liberation Serif", "fontSize": 20, "fontStyle": "italic", "fontWeight": "bold", "color": "#000000"},
         "encoding": {"x": {"datum": 6.119476, "type": "quantitative"}, "y": {"datum": 8.139054, "type": "quantitative"}}}
      ]
    }
  ]
}
